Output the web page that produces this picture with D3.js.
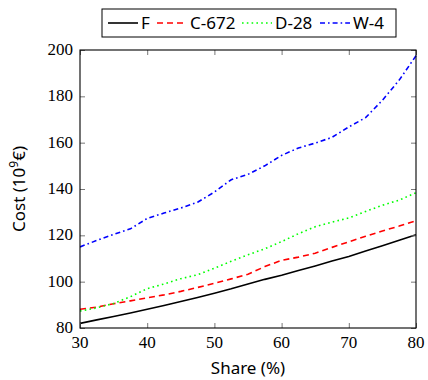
<!DOCTYPE html>
<html><head><meta charset="utf-8">
<script src="https://cdn.jsdelivr.net/npm/d3@7"></script>
<style>body{margin:0;background:#fff}</style>
</head><body>
<svg id="c" width="428" height="380"></svg>
<script>
const shares = [30,32.5,35,37.5,40,42.5,45,47.5,50,52.5,55,57.5,60,62.5,65,67.5,70,72.5,75,77.5,80];
const costF    = [82.0,83.5,85.0,86.5,88.1,89.7,91.4,93.2,95.0,96.9,99.0,101.0,102.8,104.8,106.8,108.9,110.9,113.2,115.5,117.9,120.3];
const costC672 = [88.1,89.0,90.5,91.7,93.0,94.3,95.8,97.5,99.3,101.2,103.2,106.5,109.2,110.6,112.3,114.8,117.2,119.6,121.9,124.0,126.3];
const costD28  = [87.3,88.7,90.6,93.5,97.0,99.0,101.3,103.0,105.8,108.8,111.6,114.2,117.3,120.7,123.7,125.7,127.5,130.3,133.0,135.2,138.4];
const costW4   = [115.0,117.8,120.4,122.8,127.3,129.6,131.8,134.3,138.7,144.0,146.3,150.0,154.5,157.7,159.8,162.3,166.8,170.8,178.3,187.0,197.5];
const seriesNames = ["F","C-672","D-28","W-4"];
const xTicks = [30,40,50,60,70,80];
const yTicks = [80,100,120,140,160,180,200];

const series = [
  {name: seriesNames[0], values: costF, color: "#000000", dash: null},
  {name: seriesNames[1], values: costC672, color: "#ff0000", dash: "6,4"},
  {name: seriesNames[2], values: costD28, color: "#00ff00", dash: "1.6,3.2"},
  {name: seriesNames[3], values: costW4, color: "#0000ff", dash: "5,3,1.6,3"}
];

const L = 80, R = 416, T = 50, B = 328;
const svg = d3.select("#c");
const x = d3.scaleLinear().domain([30,80]).range([L,R]);
const y = d3.scaleLinear().domain([80,200]).range([B,T]);

// lines
const line = d3.line().x((d,i)=>x(shares[i])).y(d=>y(d));
svg.append("clipPath").attr("id","pc").append("rect")
  .attr("x",L).attr("y",T-2).attr("width",R-L+1).attr("height",B-T+2);
series.forEach(s=>{
  svg.append("path").datum(s.values)
    .attr("d",line).attr("fill","none")
    .attr("stroke",s.color).attr("stroke-width",1.6)
    .attr("stroke-dasharray",s.dash)
    .attr("clip-path","url(#pc)");
});

// axes: tick marks from d3 axes (inward, mirrored)
const tk = 5;
const axes = [
  svg.append("g").attr("transform",`translate(0,${B})`).call(d3.axisBottom(x).tickValues(xTicks).tickSizeInner(-tk).tickSizeOuter(0).tickFormat("")),
  svg.append("g").attr("transform",`translate(0,${T})`).call(d3.axisTop(x).tickValues(xTicks).tickSizeInner(-tk).tickSizeOuter(0).tickFormat("")),
  svg.append("g").attr("transform",`translate(${L},0)`).call(d3.axisLeft(y).tickValues(yTicks).tickSizeInner(-tk).tickSizeOuter(0).tickFormat("")),
  svg.append("g").attr("transform",`translate(${R},0)`).call(d3.axisRight(y).tickValues(yTicks).tickSizeInner(-tk).tickSizeOuter(0).tickFormat(""))
];
axes.forEach(g=>{
  g.select(".domain").remove();
  g.selectAll(".tick text").remove();
  g.selectAll(".tick line").attr("stroke","#777").attr("stroke-width",1);
});
// tick labels positioned by the scales
svg.append("g").selectAll("text").data(xTicks).join("text")
  .attr("x",d=>x(d)).attr("y",B+20).attr("text-anchor","middle")
  .style("font-family",'"Liberation Serif"').style("font-size","17px").attr("fill","#000")
  .text(d=>d);
svg.append("g").selectAll("text").data(yTicks).join("text")
  .attr("x",L-7).attr("y",d=>y(d)+5).attr("text-anchor","end")
  .style("font-family",'"Liberation Serif"').style("font-size","17px").attr("fill","#000")
  .text(d=>d);

svg.append("rect").attr("x",L).attr("y",T).attr("width",R-L).attr("height",B-T)
  .attr("fill","none").attr("stroke","#000").attr("stroke-width",1.1);

// axis labels
svg.append("text").attr("x",(L+R)/2).attr("y",374).attr("text-anchor","middle")
  .style("font-family",'"Noto Sans"').style("font-size","17px").text("Share (%)");
const yl = svg.append("text").attr("transform",`translate(25,${(T+B)/2}) rotate(-90)`)
  .attr("text-anchor","middle").style("font-family",'"Noto Sans"').style("font-size","17px");
yl.append("tspan").text("Cost (10");
yl.append("tspan").style("font-size","12px").attr("dy",-7).text("9");
yl.append("tspan").attr("dy",7).text("€)");

// legend
svg.append("rect").attr("x",102).attr("y",9).attr("width",294).attr("height",28)
  .attr("fill","#fff").attr("stroke","#000").attr("stroke-width",1);
const lx = [108,157,242,320];
series.forEach((s,i)=>{
  svg.append("line").attr("x1",lx[i]).attr("x2",lx[i]+30).attr("y1",23).attr("y2",23)
    .attr("stroke",s.color).attr("stroke-width",1.6).attr("stroke-dasharray",s.dash);
  svg.append("text").attr("x",lx[i]+33).attr("y",29)
    .style("font-family",'"Noto Sans"').style("font-size","17px").text(s.name);
});
</script>
</body></html>
